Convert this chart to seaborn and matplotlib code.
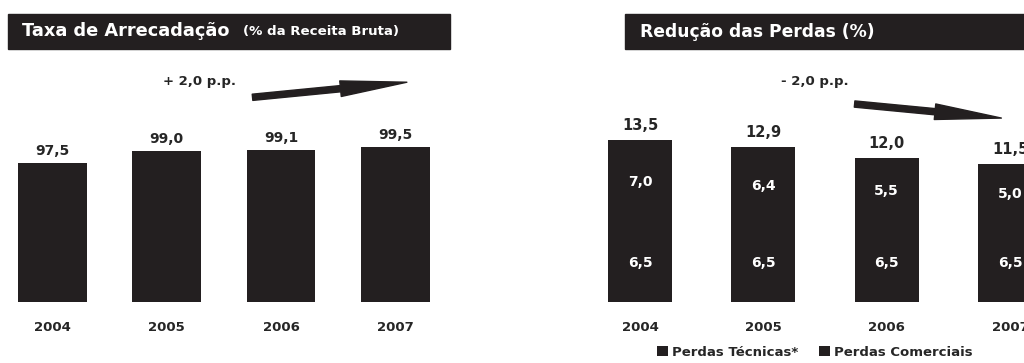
# Taxa de arrecadacao e reducao das perdas, 2004-2007

import matplotlib
matplotlib.use("Agg")
import matplotlib.pyplot as plt
from matplotlib.patches import Rectangle
import seaborn as sns

anos = ["2004", "2005", "2006", "2007"]
taxa = [97.5, 99.0, 99.1, 99.5]
perdas_tecnicas = [6.5, 6.5, 6.5, 6.5]
perdas_comerciais = [7.0, 6.4, 5.5, 5.0]
perdas_totais = [13.5, 12.9, 12.0, 11.5]

escuro = "#231f20"

def fmt(v):
    return f"{v:.1f}".replace(".", ",")

sns.set_style("white")
plt.rcParams["font.family"] = ["DejaVu Sans"]

fig = plt.figure(figsize=(10.24, 3.63), dpi=100)

# faixas de titulo
fig.patches.append(Rectangle((8 / 1024, 1 - 49 / 363), 442 / 1024, 35 / 363,
                             transform=fig.transFigure, color=escuro, zorder=0))
fig.patches.append(Rectangle((625 / 1024, 1 - 49 / 363), 400 / 1024, 35 / 363,
                             transform=fig.transFigure, color=escuro, zorder=0))
fig.text(22 / 1024, 1 - 31 / 363, "Taxa de Arrecadação", color="white",
         fontsize=12.8, fontweight="bold", va="center")
fig.text(243 / 1024, 1 - 31 / 363, "(% da Receita Bruta)", color="white",
         fontsize=9.6, fontweight="bold", va="center")
fig.text(640 / 1024, 1 - 32 / 363, "Redução das Perdas (%)", color="white",
         fontsize=12.3, fontweight="bold", va="center")

seta = dict(arrowstyle="simple,head_length=3.2,head_width=0.75,tail_width=0.3",
            color=escuro, mutation_scale=15, shrinkA=0, shrinkB=0)

# grafico esquerdo
ax1 = fig.add_axes([1 / 1024, 61 / 363, 451.6 / 1024, 242 / 363])
sns.barplot(x=anos, y=taxa, color=escuro, width=0.6, saturation=1,
            linewidth=0, ax=ax1)
ax1.set_xlim(-0.45, 3.5)
ax1.set_ylim(80, 110.5)
for i, v in enumerate(taxa):
    ax1.annotate(fmt(v), (i, v), xytext=(0, 4), textcoords="offset points",
                 ha="center", va="bottom", fontsize=10, fontweight="bold")
ax1.annotate("", xy=(3.10, 107.7), xytext=(1.75, 105.8), arrowprops=seta)
ax1.text(1.29, 107.8, "+ 2,0 p.p.", ha="center", va="center",
         fontsize=9.5, fontweight="bold")

# grafico direito (barras empilhadas)
ax2 = fig.add_axes([578.3 / 1024, 61 / 363, 493.4 / 1024, 242 / 363])
sns.barplot(x=anos, y=perdas_totais, color=escuro, width=0.52, saturation=1,
            linewidth=0, ax=ax2)
sns.barplot(x=anos, y=perdas_tecnicas, color=escuro, width=0.52, saturation=1,
            linewidth=0, ax=ax2)
ax2.set_xlim(-0.5, 3.5)
ax2.set_ylim(0, 20.17)
for i in range(len(anos)):
    t = perdas_tecnicas[i]
    c = perdas_comerciais[i]
    ax2.text(i, t / 2, fmt(t), color="white", ha="center", va="center",
             fontsize=10, fontweight="bold")
    ax2.text(i, t + c / 2, fmt(c), color="white", ha="center", va="center",
             fontsize=10, fontweight="bold")
    ax2.annotate(fmt(perdas_totais[i]), (i, perdas_totais[i]), xytext=(0, 5),
                 textcoords="offset points", ha="center", va="bottom",
                 fontsize=10.5, fontweight="bold")
ax2.annotate("", xy=(2.93, 15.33), xytext=(1.74, 16.5), arrowprops=seta)
ax2.text(1.42, 18.4, "- 2,0 p.p.", ha="center", va="center",
         fontsize=9.5, fontweight="bold")

h_tec = ax2.containers[1].patches[0]
h_com = ax2.containers[0].patches[0]
fig.legend([h_tec, h_com], ["Perdas Técnicas*", "Perdas Comerciais"],
           loc="center", bbox_to_anchor=(815 / 1024, 1 - 352 / 363), ncol=2,
           frameon=False, prop=dict(size=9.5, weight="bold"),
           handlelength=0.8, handleheight=0.8, handletextpad=0.3,
           columnspacing=1.6)

for ax in (ax1, ax2):
    sns.despine(ax=ax, left=True, bottom=True)
    ax.set_yticks([])
    ax.tick_params(axis="x", length=0, pad=14)
    for lab in ax.get_xticklabels():
        lab.set_fontweight("bold")
        lab.set_fontsize(9.5)

fig.savefig("out.png", dpi=100)
